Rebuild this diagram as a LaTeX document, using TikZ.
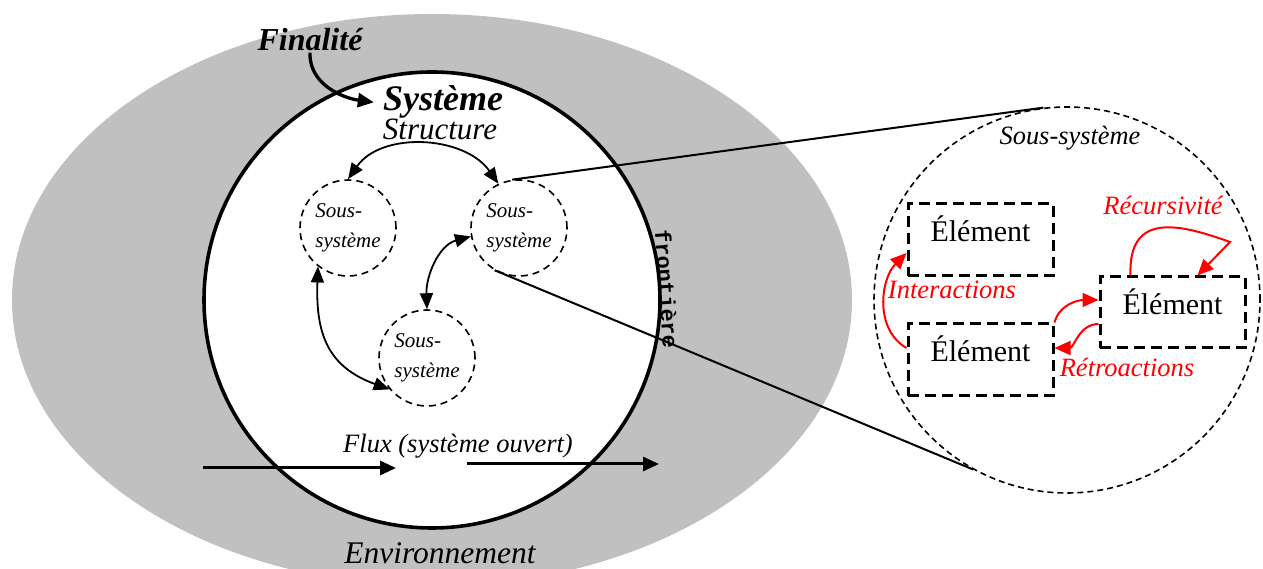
\documentclass[tikz,border=0pt]{standalone}
\usepackage{fontspec}
\setmainfont{Liberation Serif}
\setmonofont{Liberation Mono}
\usetikzlibrary{arrows.meta}
\definecolor{envgray}{RGB}{192,192,192}
\definecolor{myred}{RGB}{255,0,0}
\begin{document}
\begin{tikzpicture}[x=1pt,y=1pt,
  subsys/.style={circle, draw, dash pattern=on 7pt off 5pt, line width=1.6pt, minimum size=96pt, inner sep=0pt, align=left, font=\fontsize{21}{30}\selectfont\itshape},
  elem/.style={draw, dash pattern=on 11pt off 6pt, line width=3pt, minimum width=145pt, minimum height=72pt, inner sep=0pt, text height=20pt, text depth=16pt, font=\fontsize{30}{36}\selectfont},
  lbl/.style={inner sep=1pt, anchor=base},
  redlbl/.style={lbl, text=myred, font=\fontsize{26.5}{32}\selectfont\itshape},
  tip/.style={-{Triangle[length=16pt,width=14pt]}},
  dbl/.style={{Triangle[length=16pt,width=13pt]}-{Triangle[length=16pt,width=13pt]}, line width=1.8pt},
  redarr/.style={-{Triangle[length=16pt,width=14pt]}, draw=myred, line width=2pt},
  link/.style={line width=2pt},
]
\useasboundingbox (0,0) rectangle (1263,569);
\clip (0,0) rectangle (1263,569);

% environment
\fill[envgray] (432,269) ellipse [x radius=420pt, y radius=286pt];

% system boundary
\node[circle, draw, fill=white, line width=3.6pt, minimum size=456pt, inner sep=0pt] (sys) at (432,269) {};

% subsystems
\node[subsys] (A) at (348,341) {Sous-\\système};
\node[subsys] (B) at (519,341) {Sous-\\système};
\node[subsys] (C) at (427,211) {Sous-\\système};

% zoomed subsystem
\node[circle, draw, dash pattern=on 6pt off 4pt, line width=1.6pt, minimum size=386pt, inner sep=0pt] (Z) at (1067,269) {};

% elements
\node[elem] (E1) at (980.5,329) {Élément};
\node[elem] (E2) at (980.5,209) {Élément};
\node[elem, minimum height=71pt] (E3) at (1172.5,256.5) {Élément};

% labels
\node[lbl, font=\fontsize{32}{38}\selectfont\bfseries\itshape] (fin) at (310,518) {Finalité};
\node[lbl, font=\fontsize{36}{42}\selectfont\bfseries\itshape] (sysl) at (443,458) {Système};
\node[lbl, font=\fontsize{31}{36}\selectfont\itshape] (struct) at (440,429) {Structure};
\node[lbl, font=\fontsize{26.5}{32}\selectfont\itshape] (flux) at (458,116) {Flux (système ouvert)};
\node[lbl, font=\fontsize{31.5}{36}\selectfont\itshape] (env) at (440,5) {Environnement};
\node[lbl, font=\fontsize{26.4}{32}\selectfont\itshape] (ssl) at (1070,424) {Sous-système};
\node[redlbl] (rec) at (1163,354) {Récursivité};
\node[redlbl] (inter) at (952,270) {Interactions};
\node[redlbl] (retro) at (1127,192) {Rétroactions};
\node[font=\fontsize{22}{26}\selectfont\ttfamily\bfseries, rotate=-86, inner sep=0pt] (front) at (667,280) {frontière};

% finalité arrow
\draw[line width=3.3pt, tip] (fin.south) to[out=-92,in=172] ([xshift=-8pt]sysl.west);

% flux
\coordinate (f1) at (203,101);
\coordinate (f2) at (396,101);
\coordinate (f3) at (467,105);
\coordinate (f4) at (659,105);
\draw[line width=3pt, tip] (f1) -- (f2);
\draw[line width=3pt, tip] (f3) -- (f4);

% structure arrows
\draw[dbl] (A.north) to[out=55,in=125] (B.115);
\draw[dbl] (A.-128) to[out=-92,in=160,looseness=1.2] (C.-140);
\draw[dbl] (C.north) to[out=92,in=195] (B.190);

% zoom lines
\draw[link] (B.98) -- (Z.97);
\draw[link] (B.-120) -- (Z.-119);

% red arrows
\draw[redarr] ([yshift=12pt]E2.west) to[out=150,in=225] ([yshift=-13pt]E1.west);
\draw[redarr] ([xshift=-42pt]E3.north) .. controls (1128,358) and (1180,345) .. (1230,327) -- ([xshift=25pt]E3.north);
\draw[redarr] (E2.north east) to[out=75,in=180] ([yshift=12.5pt]E3.west);
\draw[redarr] ([yshift=-11.5pt]E3.west) to[out=180,in=0] ([yshift=12pt]E2.east);
\end{tikzpicture}
\end{document}
